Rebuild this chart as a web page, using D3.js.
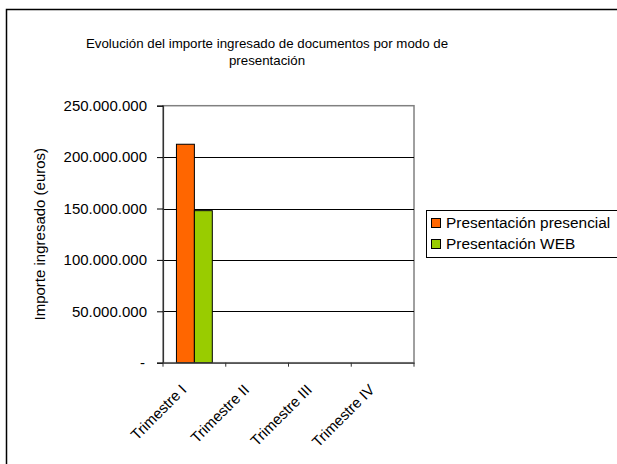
<!DOCTYPE html>
<html><head><meta charset="utf-8">
<script src="https://cdn.jsdelivr.net/npm/d3@7"></script>
<style>body{margin:0;background:#fff}svg{display:block;font-family:"Liberation Sans",Arial,sans-serif}</style>
</head><body>
<svg id="c" width="617" height="464"></svg>
<script>
const categories = ["Trimestre I", "Trimestre II", "Trimestre III", "Trimestre IV"];
const seriesNames = ["Presentación presencial", "Presentación WEB"];
const presencial = [212500000, null, null, null];
const web = [147900000, null, null, null];
const colors = ["#FF6600", "#99CC00"];
const yTicks = [0, 50000000, 100000000, 150000000, 200000000, 250000000];
const yTickLabels = ["-", "50.000.000", "100.000.000", "150.000.000", "200.000.000", "250.000.000"];
const title = ["Evolución del importe ingresado de documentos por modo de", "presentación"];
const yTitle = "Importe ingresado (euros)";

const svg = d3.select("#c");
svg.append("rect").attr("x",6.5).attr("y",9.5).attr("width",700).attr("height",600)
  .attr("fill","#fff").attr("stroke","#000").attr("stroke-width",1.5);

const L=163, R=414, T=105.7, B=362.7;
const x = d3.scaleBand().domain(categories).range([L,R]);
const xi = d3.scaleBand().domain(seriesNames).range([0,x.bandwidth()]).paddingInner(0).paddingOuter(0.75);
const y = d3.scaleLinear().domain([0,250000000]).range([B,T]);

svg.append("rect").attr("x",L).attr("y",T).attr("width",R-L).attr("height",B-T)
  .attr("fill","#fff").attr("stroke","#808080").attr("stroke-width",1.5);

svg.append("g").selectAll("line").data(yTicks.slice(1,-1)).join("line")
  .attr("x1",L).attr("x2",R).attr("y1",d=>Math.round(y(d))+0.5).attr("y2",d=>Math.round(y(d))+0.5)
  .attr("stroke","#000").attr("stroke-width",1);

const data = [presencial, web];
seriesNames.forEach((s,si)=>{
  svg.append("g").selectAll("rect").data(categories.map((c,i)=>({c,v:data[si][i]})).filter(d=>d.v!=null)).join("rect")
    .attr("x",d=>x(d.c)+xi(s)).attr("width",xi.bandwidth())
    .attr("y",d=>y(d.v)).attr("height",d=>B-y(d.v))
    .attr("fill",colors[si]).attr("stroke","#000").attr("stroke-width",1);
});

const ya = d3.axisLeft(y).tickValues(yTicks).tickFormat((d,i)=>yTickLabels[i]).tickSize(6).tickPadding(10);
const gy = svg.append("g").attr("transform",`translate(${L},0)`).call(ya);
gy.select(".domain").attr("stroke","#333").attr("stroke-width",1.2);
gy.selectAll(".tick line").attr("stroke","#000");
gy.selectAll("text").attr("font-size",15).attr("fill","#000").attr("font-family","Liberation Sans, Arial")
  .attr("dx",d=>d===0?-2:0);

const xa = d3.axisBottom(x).tickSize(0).tickFormat(()=> "");
const gx = svg.append("g").attr("transform",`translate(0,${B})`).call(xa);
gx.select(".domain").attr("stroke","#555").attr("stroke-width",1.5);
const bounds = categories.map(c=>x(c)).concat([R]);
svg.append("g").selectAll("line").data(bounds).join("line")
  .attr("x1",d=>d).attr("x2",d=>d).attr("y1",B).attr("y2",B+4).attr("stroke","#333");
svg.append("g").selectAll("text").data(categories).join("text")
  .attr("transform",d=>`translate(${x(d)+x.bandwidth()/2-7},${B+28}) rotate(-45)`)
  .attr("text-anchor","end").attr("font-size",15).text(d=>d);

svg.append("g").selectAll("text").data(title).join("text")
  .attr("x",267).attr("y",(d,i)=>48+i*16.5).attr("text-anchor","middle").attr("font-size",13.3).text(d=>d);

svg.append("text").attr("transform",`translate(45,${(T+B)/2}) rotate(-90)`).attr("text-anchor","middle")
  .attr("font-size",15).text(yTitle);

const lg = svg.append("g");
lg.append("rect").attr("x",426.5).attr("y",210.5).attr("width",220).attr("height",47)
  .attr("fill","#fff").attr("stroke","#000").attr("stroke-width",1);
seriesNames.forEach((s,i)=>{
  lg.append("rect").attr("x",431.5).attr("y",218.5+i*21).attr("width",9).attr("height",9)
    .attr("fill",colors[i]).attr("stroke","#000");
  lg.append("text").attr("x",446).attr("y",228+i*21).attr("font-size",15.4).text(s);
});
</script>
</body></html>
